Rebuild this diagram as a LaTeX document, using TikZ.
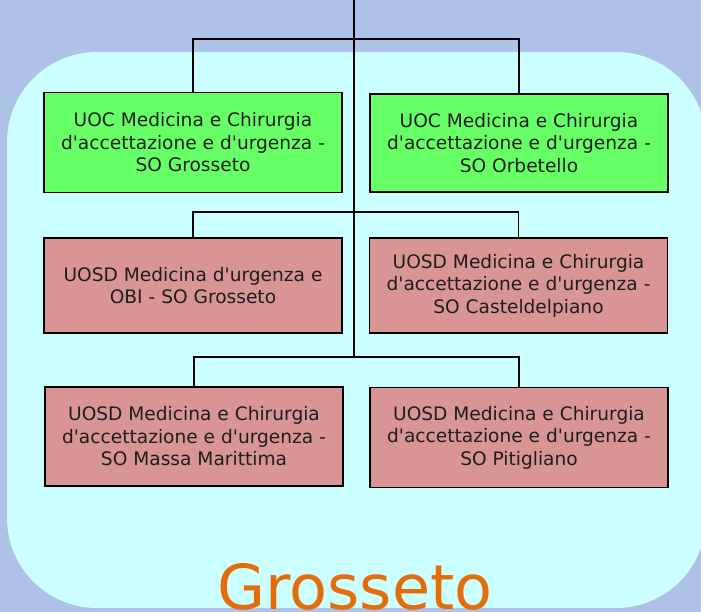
\documentclass[tikz,border=0pt]{standalone}
\usepackage{fontspec}
\setmainfont{DejaVu Sans}
\usetikzlibrary{positioning}
\definecolor{sfondo}{RGB}{174,194,232}
\definecolor{ciano}{RGB}{204,255,255}
\definecolor{verde}{RGB}{102,255,102}
\definecolor{rosa}{RGB}{217,149,148}
\definecolor{arancio}{RGB}{228,108,10}
\definecolor{testo}{RGB}{30,30,30}
\newcommand\apo{\textquotesingle}
\begin{document}
\begin{tikzpicture}[x=1pt,y=-1pt,every node/.style={outer sep=0pt},
 unita/.style={draw,line width=1.6pt,minimum width=298pt,align=center,
 text=testo,inner sep=0pt,font=\fontsize{18.6}{22.5}\selectfont},
 uoc/.style={unita,fill=verde,minimum height=100pt},
 uosd/.style={unita,fill=rosa},
 linea/.style={line width=1.5pt}]
  \useasboundingbox (0,0) rectangle (701,612);
  \fill[sfondo] (0,0) rectangle (701,612);
  \fill[ciano,rounded corners=90pt] (7,52) rectangle (706,608);

  \node[uoc] (uocGR) at (193,142.5)
   {UOC Medicina e Chirurgia\\d\apo accettazione e d\apo urgenza -\\SO Grosseto};
  \node[uoc,minimum height=98pt] (uocOR) at (519,143)
   {UOC Medicina e Chirurgia\\d\apo accettazione e d\apo urgenza -\\SO Orbetello};
  \node[uosd,minimum height=95pt] (uosdGR) at (193,285.5)
   {UOSD Medicina d\apo urgenza e\\OBI - SO Grosseto};
  \node[uosd,minimum height=95pt] (uosdCP) at (518.5,285.5)
   {UOSD Medicina e Chirurgia\\d\apo accettazione e d\apo urgenza -\\SO Casteldelpiano};
  \node[uosd,minimum height=99pt] (uosdMM) at (194,436.5)
   {UOSD Medicina e Chirurgia\\d\apo accettazione e d\apo urgenza -\\SO Massa Marittima};
  \node[uosd,minimum height=100pt] (uosdPT) at (519,437.5)
   {UOSD Medicina e Chirurgia\\d\apo accettazione e d\apo urgenza -\\SO Pitigliano};

  \coordinate (cima) at (354,0);
  \foreach \Y/\A/\B/\N in {39/uocGR/uocOR/1,212/uosdGR/uosdCP/2,357/uosdMM/uosdPT/3}
  {\coordinate (bus\N) at (354,\Y);
   \draw[linea] (bus\N) -| (\A.north);
   \draw[linea] (bus\N) -| (\B.north);
  }
  \draw[line width=1.8pt] (cima) -- (bus3);

  \node[text=arancio,font=\fontsize{62}{62}\selectfont,anchor=base,inner sep=0pt]
   (titolo) at (355,609) {Grosseto};
\end{tikzpicture}
\end{document}
